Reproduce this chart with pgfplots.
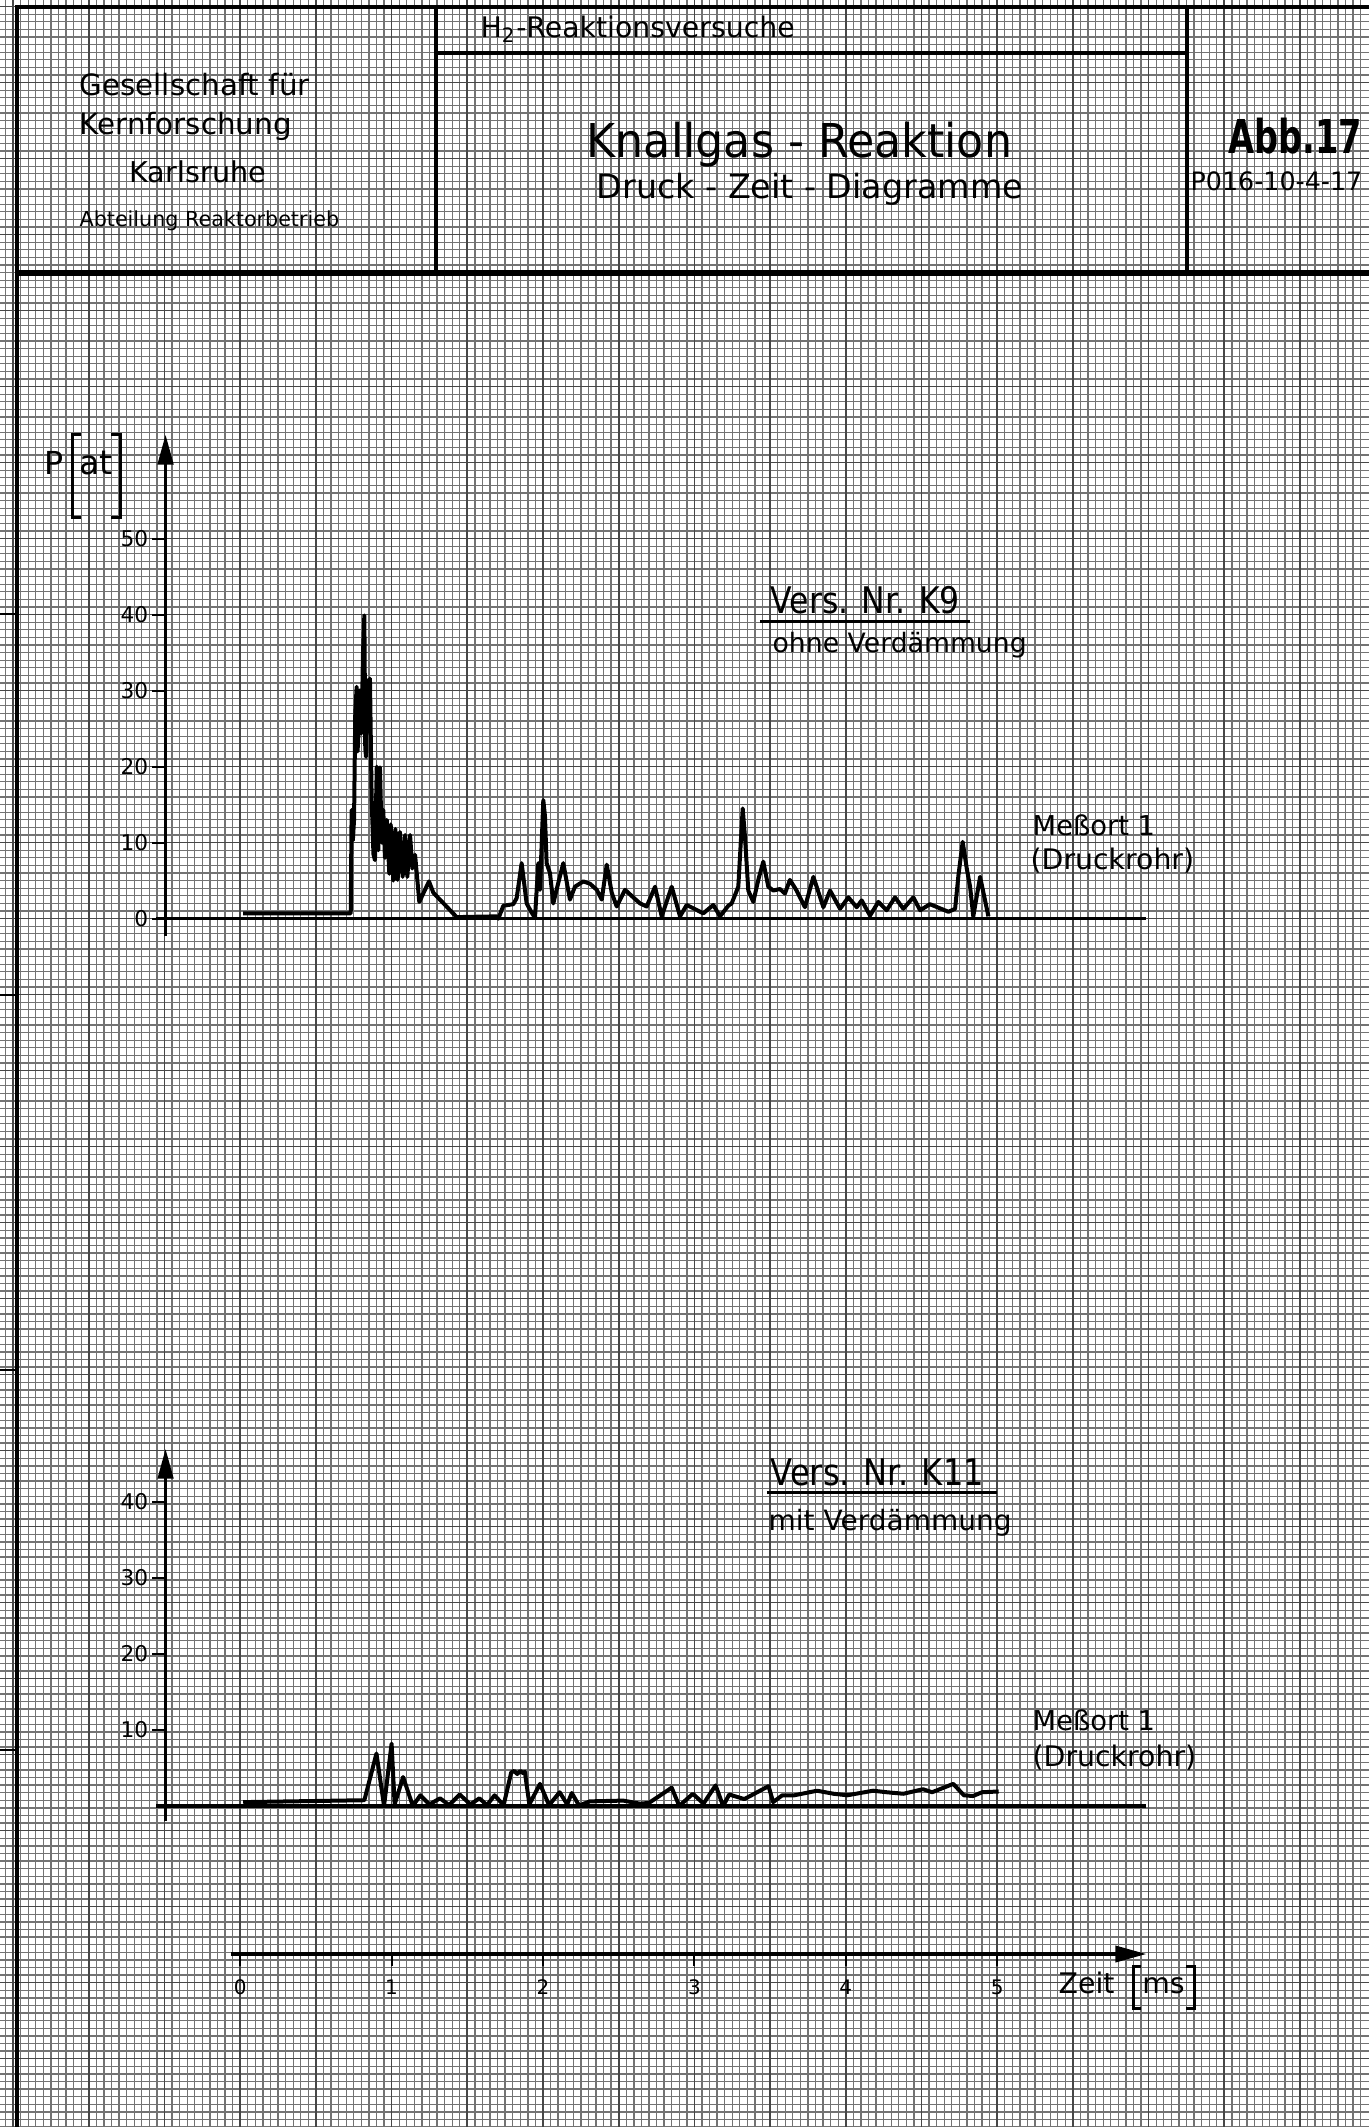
\documentclass[border=0pt]{standalone}
\usepackage{pgfplots}
\pgfplotsset{compat=1.18}
\usepackage{pgfplotstable}
\usepackage{fontspec}
\setmainfont{DejaVu Sans}
\usetikzlibrary{arrows.meta}
\newcommand{\fsz}[1]{\fontsize{#1}{#1}\selectfont}
\colorlet{gridc}{black!55}
\colorlet{gridm}{black!72}

\pgfplotstableread{
t P
0.020 0.7
0.730 0.7
0.736 14.3
0.744 10.3
0.752 13.0
0.760 27.0
0.769 30.5
0.775 22.0
0.780 23.9
0.786 30.0
0.791 30.0
0.797 24.4
0.802 24.4
0.811 35.0
0.820 39.9
0.826 22.5
0.831 21.3
0.836 31.4
0.842 31.0
0.849 25.0
0.857 31.6
0.868 16.0
0.880 8.5
0.890 7.7
0.902 20.0
0.912 9.0
0.923 19.9
0.935 10.0
0.945 14.3
0.956 8.0
0.968 13.0
0.985 5.9
0.994 12.4
1.011 5.0
1.025 11.8
1.040 5.1
1.055 11.4
1.073 5.5
1.089 11.0
1.104 5.5
1.122 11.0
1.137 6.6
1.155 8.4
1.183 2.2
1.247 4.9
1.276 3.4
1.430 0.2
1.694 0.3
1.705 0.0
1.738 1.7
1.804 1.9
1.826 2.7
1.859 7.3
1.892 2.0
1.925 0.8
1.947 0.1
1.969 7.3
1.980 3.8
2.002 15.6
2.013 13.5
2.024 7.3
2.046 6.0
2.068 2.0
2.086 3.5
2.134 7.3
2.178 2.5
2.211 4.2
2.266 4.9
2.310 4.6
2.355 3.8
2.388 2.5
2.421 7.1
2.454 3.4
2.487 1.6
2.542 3.8
2.596 2.8
2.641 2.0
2.685 1.6
2.740 4.2
2.784 0.3
2.850 4.2
2.905 0.3
2.949 1.8
3.059 0.7
3.125 1.8
3.169 0.3
3.224 1.7
3.246 2.0
3.290 4.2
3.319 14.5
3.334 10.8
3.356 3.7
3.389 2.2
3.422 5.1
3.455 7.5
3.488 4.2
3.521 3.7
3.565 3.9
3.598 3.3
3.631 5.1
3.675 3.7
3.730 1.5
3.786 5.5
3.852 1.5
3.896 3.7
3.962 1.3
4.017 2.8
4.072 1.5
4.105 2.4
4.160 0.4
4.215 2.2
4.270 1.1
4.325 2.8
4.380 1.3
4.446 2.8
4.491 1.1
4.556 1.9
4.678 0.9
4.722 1.3
4.744 5.7
4.772 10.1
4.799 6.6
4.821 4.2
4.842 0.3
4.887 5.5
4.942 0.3
}\kninetab

\pgfplotstableread{
t P
0.02 0.5
0.82 0.75
0.90 6.9
0.95 0.0
1.00 8.2
1.02 0.2
1.076 3.8
1.14 0.0
1.19 1.4
1.25 0.2
1.32 1.0
1.38 0.1
1.45 1.5
1.52 0.2
1.58 1.0
1.63 0.1
1.68 1.4
1.74 0.1
1.79 4.4
1.81 4.6
1.83 4.2
1.85 4.6
1.87 4.3
1.88 4.5
1.91 0.2
1.98 2.9
2.04 0.1
2.11 1.8
2.16 0.2
2.19 1.7
2.24 0.0
2.27 0.3
2.31 0.6
2.53 0.7
2.64 0.3
2.70 0.4
2.85 2.4
2.90 0.0
2.99 1.6
3.06 0.3
3.14 2.7
3.19 0.0
3.23 1.5
3.28 1.2
3.33 0.9
3.49 2.6
3.52 0.5
3.58 1.4
3.66 1.4
3.81 2.0
3.92 1.6
4.01 1.4
4.18 2.0
4.27 1.8
4.38 1.6
4.51 2.2
4.57 1.8
4.71 2.9
4.78 1.4
4.84 1.3
4.90 1.8
5.01 1.9
}\kelftab

\begin{document}
\begin{tikzpicture}
\useasboundingbox (0pt,0pt) rectangle (410.7pt,-638.1pt);
\begin{scope}[x=0.3pt,y=-0.3pt]
  \fill[white] (0,0) rectangle (1369,2127);
  % graph paper
  \foreach \k in {-31,...,148}{\draw[gridc,line width=0.4pt] ({240.2+\k*7.57},0) -- ({240.2+\k*7.57},2127);}
  \foreach \k in {-120,...,159}{\draw[gridc,line width=0.4pt] (0,{918.6+\k*7.6}) -- (1369,{918.6+\k*7.6});}
  \foreach \k in {-30,-20,...,140}{\draw[gridm,line width=0.5pt] ({240.2+\k*7.57},0) -- ({240.2+\k*7.57},2127);}
  \foreach \k in {-120,-110,...,150}{\draw[gridm,line width=0.5pt] (0,{918.6+\k*7.6}) -- (1369,{918.6+\k*7.6});}
  % frame
  \draw[line width=1.4pt] (17,2127) -- (17,7) -- (1369,7);
  \draw[line width=1.6pt] (17,273) -- (1369,273);
  \draw[line width=1.2pt] (436,7) -- (436,273);
  \draw[line width=1.2pt] (1187,7) -- (1187,273);
  \draw[line width=1.1pt] (436,53) -- (1187,53);
  \foreach \yy in {614,995,1370,1750}{\draw[line width=0.7pt] (0,\yy) -- (17,\yy);}
  % header text
  \node[anchor=base west,inner sep=0pt,font=\fsz{8.8}] at (79,95) {Gesellschaft für};
  \node[anchor=base west,inner sep=0pt,font=\fsz{8.8}] at (79,134) {Kernforschung};
  \node[anchor=base west,inner sep=0pt,font=\fsz{8.6}] at (129,182) {Karlsruhe};
  \node[anchor=base west,inner sep=0pt,font=\fsz{6.2}] at (79,226) {Abteilung Reaktorbetrieb};
  \node[anchor=base west,inner sep=0pt,font=\fsz{8.5}] at (480,37) {H\textsubscript{2}-Reaktionsversuche};
  \node[anchor=base west,inner sep=0pt,font=\fsz{14}] at (586,157) {\scalebox{0.95}[1]{Knallgas - Reaktion}};
  \node[anchor=base west,inner sep=0pt,font=\fsz{10}] at (596,198) {Druck - Zeit - Diagramme};
  \node[anchor=base west,inner sep=0pt,font=\fsz{14}\bfseries] at (1228,153) {\scalebox{0.72}[1]{Abb.17}};
  \node[anchor=base west,inner sep=0pt,font=\fsz{7.6}] at (1190,190) {P016-10-4-17};
  % y label
  \node[anchor=base west,inner sep=0pt,font=\fsz{9.5}] at (44,474) {P};
  \draw[line width=0.9pt] (81,434) -- (72,434) -- (72,517) -- (81,517);
  \draw[line width=0.9pt] (111,434) -- (120,434) -- (120,517) -- (111,517);
  \node[anchor=base,inner sep=0pt,font=\fsz{10}] at (96,474) {at};
  % annotations top
  \node[anchor=base west,inner sep=0pt,font=\fsz{11}] at (770,613) {\scalebox{0.86}[1]{Vers. Nr. K9}};
  \draw[line width=0.9pt] (760,621) -- (970,621);
  \node[anchor=base west,inner sep=0pt,font=\fsz{8}] at (772,652) {ohne Verdämmung};
  \node[anchor=base west,inner sep=0pt,font=\fsz{8.2}] at (1032,835) {Meßort 1};
  \node[anchor=base west,inner sep=0pt,font=\fsz{8.5}] at (1030,869) {(Druckrohr)};
  % annotations bottom
  \node[anchor=base west,inner sep=0pt,font=\fsz{11}] at (770,1485) {\scalebox{0.877}[1]{Vers. Nr. K11}};
  \draw[line width=0.9pt] (767,1492) -- (997,1492);
  \node[anchor=base west,inner sep=0pt,font=\fsz{8.4}] at (768,1530) {mit Verdämmung};
  \node[anchor=base west,inner sep=0pt,font=\fsz{8.2}] at (1032,1730) {Meßort 1};
  \node[anchor=base west,inner sep=0pt,font=\fsz{8.5}] at (1032,1766) {(Druckrohr)};
  % time axis label
  \node[anchor=base west,inner sep=0pt,font=\fsz{8.5}] at (1058,1993) {Zeit};
  \draw[line width=0.9pt] (1141,1966) -- (1133,1966) -- (1133,2008) -- (1141,2008);
  \draw[line width=0.9pt] (1186,1966) -- (1194,1966) -- (1194,2008) -- (1186,2008);
  \node[anchor=base,inner sep=0pt,font=\fsz{8.5}] at (1163.5,1993) {ms};
\end{scope}

% top plot K9
\begin{axis}[
  at={(49.67pt,-280.83pt)}, anchor=south west,
  x=45.42pt, y=2.28pt,
  xmin=-0.493, xmax=5.986, ymin=-2.3, ymax=63.7,
  axis x line=none, axis y line=left,
  y axis line style={line width=1.1pt,-{Triangle[length=9pt,width=4.6pt]}},
  ytick={0,10,...,50}, ytick align=outside, major tick length=4pt,
  ytick style={line width=0.6pt,black},
  yticklabel style={font=\fsz{6.5},inner sep=1pt},
  /pgf/number format/assume math mode=true,
  clip=false,
]
\draw[line width=1.1pt] (axis cs:-0.556,0) -- (axis cs:5.986,0);
\addplot[line width=1.2pt,black,line join=round,mark=none] table[x=t,y=P]{\kninetab};
\end{axis}

% bottom plot K11
\begin{axis}[
  at={(49.67pt,-546.33pt)}, anchor=south west,
  x=45.42pt, y=2.28pt,
  xmin=-0.493, xmax=5.986, ymin=-2, ymax=47,
  axis x line=none, axis y line=left,
  y axis line style={line width=1.1pt,-{Triangle[length=9pt,width=4.6pt]}},
  ytick={10,20,30,40}, ytick align=outside, major tick length=4pt,
  ytick style={line width=0.6pt,black},
  yticklabel style={font=\fsz{6.5},inner sep=1pt},
  /pgf/number format/assume math mode=true,
  clip=false,
]
\draw[line width=1.1pt] (axis cs:-0.556,0) -- (axis cs:5.986,0);
\addplot[line width=1.2pt,black,line join=round,mark=none] table[x=t,y=P]{\kelftab};
\end{axis}

% time axis
\begin{axis}[
  at={(69.33pt,-586.2pt)}, anchor=south west,
  x=45.42pt, y=10pt,
  xmin=-0.06, xmax=5.986, ymin=0, ymax=1,
  axis x line=bottom, axis y line=none,
  x axis line style={line width=1.1pt,-{Triangle[length=9.3pt,width=4.8pt]}},
  xtick={0,1,2,3,4,5}, xtick align=outside, major tick length=3.6pt,
  xtick style={line width=0.6pt,black},
  xticklabel style={font=\fsz{6},inner sep=1pt,yshift=-3pt},
  /pgf/number format/assume math mode=true,
  clip=false,
]
\end{axis}
\end{tikzpicture}
\end{document}
